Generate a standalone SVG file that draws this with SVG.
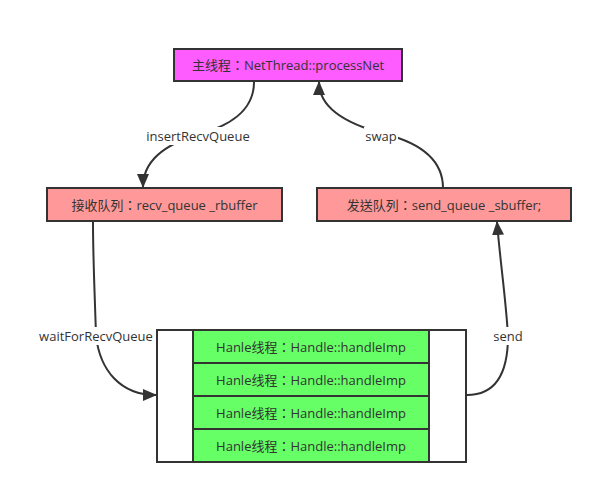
<svg xmlns="http://www.w3.org/2000/svg" width="603" height="494" viewBox="0 0 603 494">
<style>
.box{stroke:#333;stroke-width:2}
.t{font-family:"Open Sans","Noto Sans CJK TC","Noto Sans CJK SC",sans-serif;font-size:13px;fill:#333;text-anchor:middle;dominant-baseline:central}
.c{fill:none;stroke:#333;stroke-width:2}
.lb{fill:#fff}
</style>
<defs>
<marker id="a" viewBox="0 0 14 12" refX="13" refY="6" markerWidth="14" markerHeight="12" orient="auto" markerUnits="userSpaceOnUse">
<path d="M0,0 L14,6 L0,12 Z" fill="#333"/>
</marker>
</defs>
<rect width="603" height="494" fill="#fff"/>
<g id="connectors">
<path class="c" d="M254,82 C254,112 228,126 200,134 C165,144 143,160 143,187" marker-end="url(#a)"/>
<path class="c" d="M443,188 C443,160 420,143 385,134 C350,125 319,110 319,82" marker-end="url(#a)"/>
<path class="c" d="M93,222 C93,260 95,300 96,336 C100,370 120,395 156,395" marker-end="url(#a)"/>
<path class="c" d="M467,395 C495,395 508,375 508,336 C506,300 500,260 497,222" marker-end="url(#a)"/>
<rect class="lb" x="141" y="127" width="114" height="18"/>
<text class="t" x="198" y="136">insertRecvQueue</text>
<rect class="lb" x="364" y="127" width="34" height="18"/>
<text class="t" x="381" y="136">swap</text>
<rect class="lb" x="36" y="327" width="120" height="18"/>
<text class="t" x="96" y="336">waitForRecvQueue</text>
<rect class="lb" x="492" y="327" width="32" height="18"/>
<text class="t" x="508" y="336">send</text>
</g>
<g id="main">
<rect class="box" x="174" y="49" width="228" height="32" fill="#ff5cff"/>
<text class="t" x="288" y="65">主线程：NetThread::processNet</text>
</g>
<g id="recv">
<rect class="box" x="47" y="188" width="235" height="33" fill="#ff9999"/>
<text class="t" x="164.5" y="204.5">接收队列：recv_queue _rbuffer</text>
</g>
<g id="sendq">
<rect class="box" x="317" y="188" width="254" height="33" fill="#ff9999"/>
<text class="t" x="444" y="204.5">发送队列：send_queue _sbuffer;</text>
</g>
<g id="pool">
<rect class="box" x="157" y="330" width="309" height="132" fill="#fff"/>
<g id="h1"><rect class="box" x="193" y="330" width="236" height="33" fill="#66ff66"/><text class="t" x="311" y="346.5">Hanle线程：Handle::handleImp</text></g>
<g id="h2"><rect class="box" x="193" y="363" width="236" height="33" fill="#66ff66"/><text class="t" x="311" y="379.5">Hanle线程：Handle::handleImp</text></g>
<g id="h3"><rect class="box" x="193" y="396" width="236" height="33" fill="#66ff66"/><text class="t" x="311" y="412.5">Hanle线程：Handle::handleImp</text></g>
<g id="h4"><rect class="box" x="193" y="429" width="236" height="33" fill="#66ff66"/><text class="t" x="311" y="445.5">Hanle线程：Handle::handleImp</text></g>
</g>
</svg>
